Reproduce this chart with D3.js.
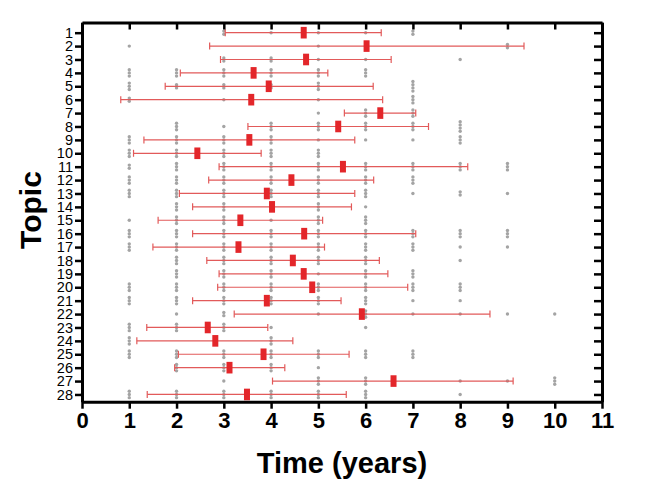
<!DOCTYPE html>
<html><head><meta charset="utf-8">
<script src="https://cdn.jsdelivr.net/npm/d3@7"></script>
<style>body{margin:0;background:#fff}svg{display:block}</style>
</head><body><svg id="c" width="670" height="486"></svg>
<script>
const topics = d3.range(1, 29);
const means = [4.69,6.02,4.74,3.63,3.95,3.58,6.31,5.42,3.54,2.44,5.52,4.43,3.91,4.02,3.35,4.70,3.31,4.46,4.69,4.87,3.91,5.92,2.66,2.82,3.84,3.12,6.59,3.49];
const lows  = [3.03,2.70,2.93,2.08,1.76,0.82,5.55,3.51,1.31,1.09,2.90,2.68,2.06,2.34,1.61,2.34,1.50,2.64,2.90,2.87,2.34,3.22,1.37,1.16,2.04,1.96,4.03,1.38];
const highs = [6.33,9.35,6.54,5.20,6.16,6.36,7.06,7.33,5.77,3.79,8.16,6.17,5.77,5.70,5.09,7.06,5.13,6.29,6.47,6.89,5.48,8.63,3.93,4.46,5.65,4.29,9.12,5.59];
// individual responses per topic: [year, count]
const dots = [
 [[3,2],[4,1],[5,1],[6,1],[7,2]],
 [[1,1],[5,1],[9,2]],
 [[3,2],[4,2],[5,1],[6,1],[8,1]],
 [[1,3],[2,3],[3,3],[4,3],[5,3],[6,3]],
 [[1,3],[2,2],[3,2],[4,2],[5,3],[7,4]],
 [[1,2],[3,1],[5,1],[7,3]],
 [[5,1],[6,3],[7,3]],
 [[2,3],[3,1],[4,3],[5,3],[6,3],[7,3],[8,4]],
 [[1,3],[2,3],[3,3],[4,3],[5,1],[6,1],[7,1],[8,3]],
 [[0,1],[1,3],[2,3],[3,3],[4,3],[5,3]],
 [[1,2],[2,3],[3,3],[4,3],[5,3],[6,3],[7,3],[8,3],[9,3]],
 [[1,3],[2,3],[3,3],[4,3],[5,3],[6,3],[7,3]],
 [[0,1],[1,3],[2,3],[3,3],[4,3],[5,3],[6,3],[7,1],[8,2],[9,1]],
 [[2,3],[3,3],[4,3],[5,3],[6,1]],
 [[1,1],[2,3],[3,3],[4,1],[5,3],[6,3]],
 [[1,3],[2,3],[3,3],[4,3],[5,3],[6,3],[7,3],[8,3],[9,3]],
 [[1,3],[2,3],[3,3],[4,3],[5,3],[6,3],[7,3],[8,1],[9,1]],
 [[2,3],[3,3],[4,3],[5,3],[6,3],[8,1]],
 [[2,3],[3,3],[4,3],[5,1],[6,3],[7,3]],
 [[1,3],[2,3],[3,3],[4,3],[5,3],[6,3],[7,3],[8,3]],
 [[1,3],[2,3],[3,3],[4,3],[5,3],[6,3],[7,1],[8,1]],
 [[2,1],[3,2],[5,1],[6,3],[7,1],[8,1],[9,1],[10,1]],
 [[1,3],[2,3],[3,3],[4,1],[6,1]],
 [[1,3],[4,3]],
 [[1,3],[2,3],[3,3],[4,3],[5,3],[6,3],[7,3]],
 [[2,3],[3,3],[4,3],[5,1]],
 [[3,1],[5,3],[6,3],[8,1],[9,1],[10,3]],
 [[0,1],[1,3],[2,3],[3,3],[4,3],[5,3],[6,3],[8,1]]
];
const xTicks = d3.range(0, 12);

const svg = d3.select("#c");
const x = d3.scaleLinear().domain([0, 11]).range([82, 602]);
const y = d3.scaleLinear().domain([0.24, 28.54]).range([22.5, 401.7]);

// grey dots
const pts = [];
dots.forEach((row, i) => row.forEach(([v, n]) => {
  for (let k = 0; k < n; k++) pts.push({v, t: topics[i], off: (k - (n - 1) / 2) * 3.2});
}));
svg.append("g").selectAll("circle").data(pts).join("circle")
  .attr("cx", d => x(d.v)).attr("cy", d => y(d.t) + d.off)
  .attr("r", 1.7).attr("fill", "#a4a4a4");

// error bars
const eb = svg.append("g").attr("stroke", "#e25a5a").attr("stroke-width", 1.2);
topics.forEach((t, i) => {
  eb.append("line").attr("x1", x(lows[i])).attr("x2", x(highs[i])).attr("y1", y(t)).attr("y2", y(t));
  [lows[i], highs[i]].forEach(v => eb.append("line").attr("x1", x(v)).attr("x2", x(v)).attr("y1", y(t) - 3.5).attr("y2", y(t) + 3.5));
});
// means
svg.append("g").selectAll("rect").data(topics).join("rect")
  .attr("x", (t, i) => x(means[i]) - 3).attr("y", t => y(t) - 5.8)
  .attr("width", 6).attr("height", 11.6).attr("fill", "#e3262a");

// axes
const font = "Liberation Sans, Arial, Helvetica, sans-serif";
function style(g) {
  g.select(".domain").attr("stroke", "#000").attr("stroke-width", 3);
  g.selectAll(".tick line").attr("stroke", "#000").attr("stroke-width", 2.5);
}
const gl = svg.append("g").attr("transform", "translate(82,0)")
  .call(d3.axisLeft(y).tickValues(topics).tickSize(7).tickSizeOuter(0).tickPadding(2));
style(gl);
gl.selectAll("text").attr("font-family", font).attr("font-size", 14.5).attr("fill", "#000");
const gb = svg.append("g").attr("transform", "translate(0,401.7)")
  .call(d3.axisBottom(x).tickValues(xTicks).tickSize(7).tickSizeOuter(0).tickPadding(4));
style(gb);
gb.selectAll("text").attr("font-family", font).attr("font-size", 22).attr("font-weight", "bold").attr("fill", "#000");
const gt = svg.append("g").attr("transform", "translate(0,22.5)")
  .call(d3.axisTop(x).tickValues(xTicks).tickSize(-7).tickSizeOuter(0).tickFormat(""));
style(gt);
const gr = svg.append("g").attr("transform", "translate(602,0)")
  .call(d3.axisRight(y).tickValues(topics).tickSize(-8).tickSizeOuter(0).tickFormat(""));
style(gr);

svg.append("text").attr("x", 342).attr("y", 473).attr("text-anchor", "middle")
  .attr("font-family", font).attr("font-size", 29).attr("font-weight", "bold").text("Time (years)");
svg.append("text").attr("transform", "translate(41,210) rotate(-90)").attr("text-anchor", "middle")
  .attr("font-family", font).attr("font-size", 30).attr("font-weight", "bold").text("Topic");
</script></body></html>
